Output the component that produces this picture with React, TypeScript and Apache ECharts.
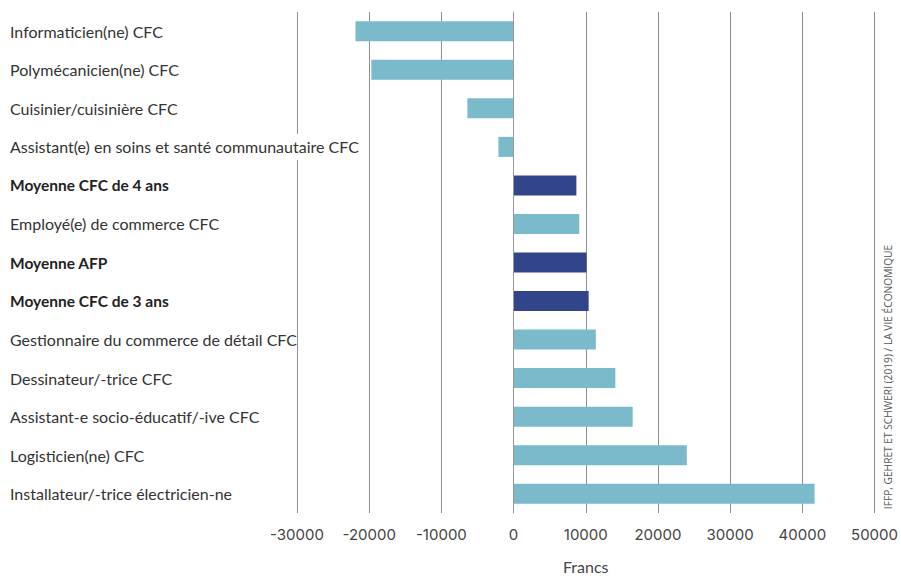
import React, { useEffect, useRef } from "react";
import * as echarts from "echarts";

const categories = [
  "Informaticien(ne) CFC",
  "Polymécanicien(ne) CFC",
  "Cuisinier/cuisinière CFC",
  "Assistant(e) en soins et santé communautaire CFC",
  "Moyenne CFC de 4 ans",
  "Employé(e) de commerce CFC",
  "Moyenne AFP",
  "Moyenne CFC de 3 ans",
  "Gestionnaire du commerce de détail CFC",
  "Dessinateur/-trice CFC",
  "Assistant-e socio-éducatif/-ive CFC",
  "Logisticien(ne) CFC",
  "Installateur/-trice électricien-ne",
];
const values = [-21900, -19700, -6400, -2100, 8700, 9100, 10100, 10400, 11400, 14100, 16500, 24000, 41700];
const isAverage = [false, false, false, false, true, false, true, true, false, false, false, false, false];
const xMin = -30000;
const xMax = 50000;
const xStep = 10000;
const axisName = "Francs";
const sourceText = "IFFP, GEHRET ET SCHWERI (2019) / LA VIE ÉCONOMIQUE";

export default function App() {
  const ref = useRef<HTMLDivElement>(null);
  useEffect(() => {
    if (!ref.current) return;
    const chart = echarts.init(ref.current, undefined, { renderer: "svg" });
    chart.setOption({
      animation: false,
      grid: { left: 297, right: 26, top: 12, bottom: 62, containLabel: false },
      xAxis: {
        type: "value",
        min: xMin,
        max: xMax,
        interval: xStep,
        axisLine: { show: false },
        axisTick: { show: false },
        splitLine: { show: true, lineStyle: { color: "#8f8f8f", width: 1 } },
        axisLabel: {
          margin: 14,
          color: "#444",
          fontFamily: "Inter",
          fontSize: 15,
          formatter: (v: number) => String(v),
        },
        name: axisName,
        nameLocation: "middle",
        nameGap: 45,
        nameTextStyle: { color: "#444", fontFamily: "Lato", fontSize: 16 },
      },
      yAxis: {
        type: "category",
        data: categories,
        inverse: true,
        z: 5,
        axisLine: { show: true, lineStyle: { color: "#999", width: 1 } },
        axisTick: { show: false },
        axisLabel: {
          align: "left",
          margin: 287,
          color: "#333",
          fontFamily: "Lato",
          fontSize: 16,
          formatter: (v: string) => {
            const i = categories.indexOf(v);
            if (isAverage[i]) return `{b|${v}}`;
            if (i === 3) return `{w|${v}}`;
            return v;
          },
          rich: {
            b: { fontWeight: "bold", fontFamily: "Lato", fontSize: 15.5, color: "#222" },
            w: {
              fontFamily: "Lato",
              fontSize: 16,
              color: "#333",
              backgroundColor: "#fff",
              padding: [5, 2, 5, 0],
            },
          },
        },
      },
      series: [
        {
          type: "bar",
          barWidth: 20,
          data: values.map((v, i) => ({
            value: v,
            itemStyle: { color: isAverage[i] ? "#32458a" : "#7bbacb" },
          })),
        },
      ],
      graphic: [
        {
          type: "text",
          x: 888,
          y: 377,
          rotation: Math.PI / 2,
          style: {
            text: sourceText,
            fill: "#555",
            fontFamily: "Open Sans",
            fontSize: 10.2,
            align: "center",
            verticalAlign: "middle",
          },
        },
      ],
    });
    return () => chart.dispose();
  }, []);
  return (
    <div
      ref={ref}
      style={{ position: "absolute", left: 0, top: 0, width: 901, height: 579 }}
    />
  );
}
